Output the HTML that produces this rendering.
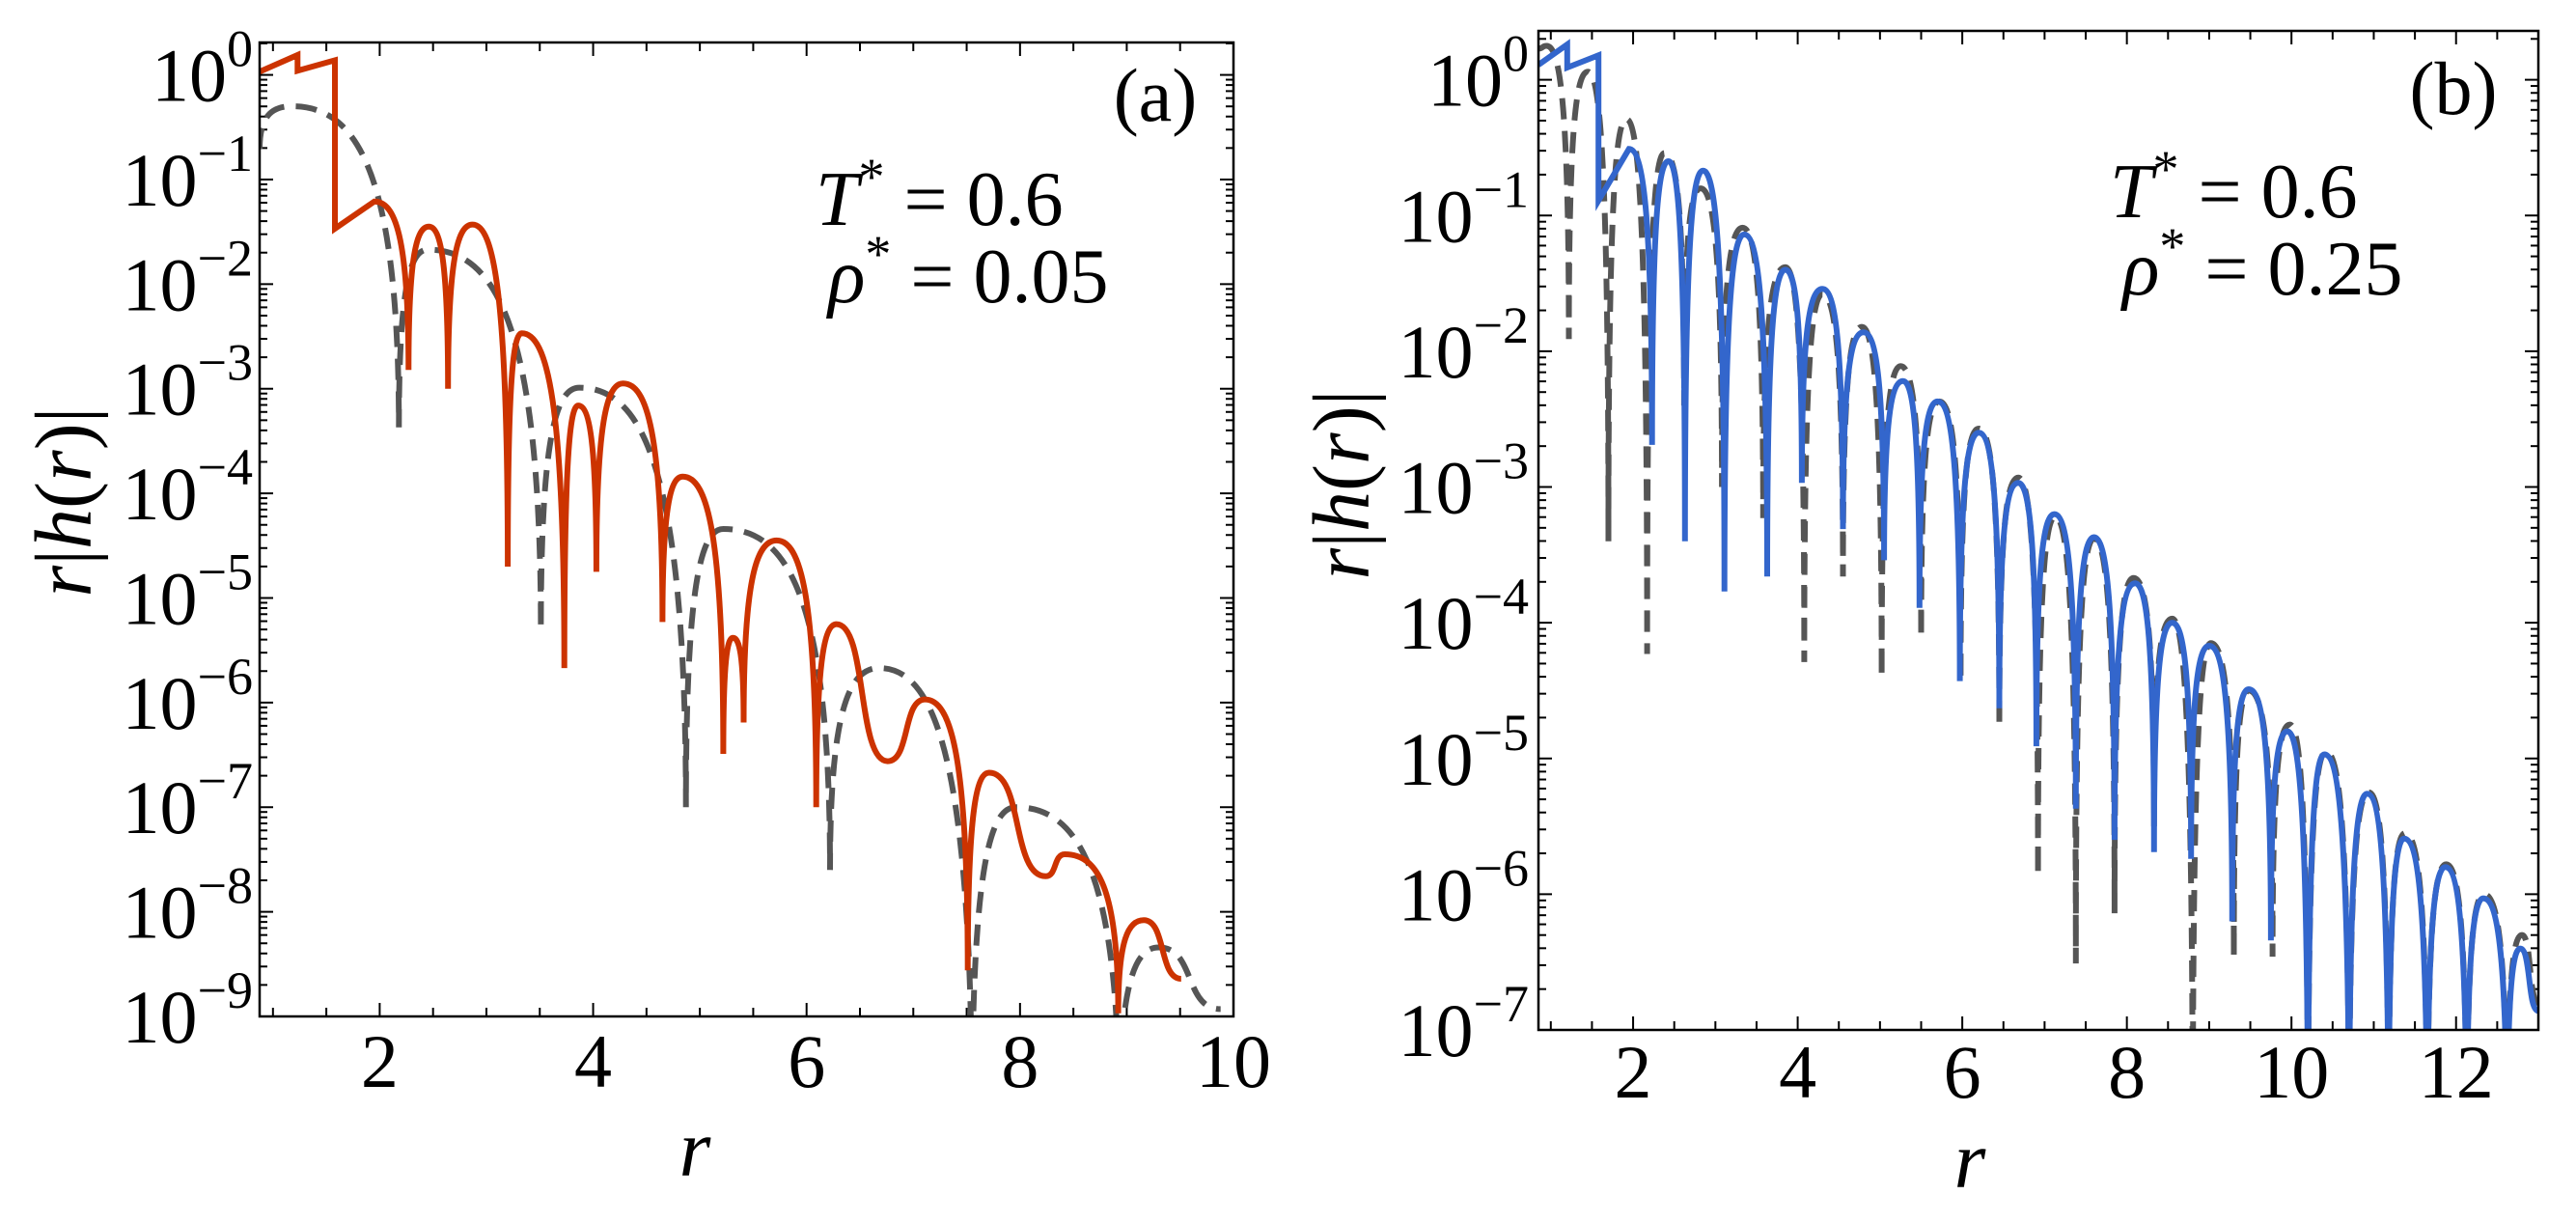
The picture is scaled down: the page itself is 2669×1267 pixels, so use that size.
<!DOCTYPE html>
<html><head><meta charset="utf-8"><style>
html,body{margin:0;padding:0;background:#fff;}
svg, svg text{font-family:"Liberation Serif","DejaVu Serif","Times New Roman",serif;}
</style></head><body>
<svg id="fig" width="2669" height="1262" viewBox="0 0 2669 1262" xmlns="http://www.w3.org/2000/svg" font-family="Liberation Serif, DejaVu Serif, serif">
<defs>
<clipPath id="clipA"><rect x="269" y="44" width="1009" height="1009"/></clipPath>
<clipPath id="clipB"><rect x="1594" y="32" width="1036" height="1035"/></clipPath>
</defs>
<g id="panelA"></g>
<g id="panelB"></g>
<g>
  <text x="1197" y="125" font-size="78" text-anchor="middle">(a)</text>
  <text x="2542" y="118" font-size="78" text-anchor="middle">(b)</text>
  <text x="845" y="233" font-size="80"><tspan font-style="italic">T</tspan><tspan dy="-32" font-size="54">*</tspan><tspan dy="32"> = 0.6</tspan></text>
  <text x="858" y="313" font-size="80"><tspan font-style="italic">ρ</tspan><tspan dy="-32" font-size="54">*</tspan><tspan dy="32"> = 0.05</tspan></text>
  <text x="2186" y="225" font-size="80"><tspan font-style="italic">T</tspan><tspan dy="-32" font-size="54">*</tspan><tspan dy="32"> = 0.6</tspan></text>
  <text x="2199" y="305" font-size="80"><tspan font-style="italic">ρ</tspan><tspan dy="-32" font-size="54">*</tspan><tspan dy="32"> = 0.25</tspan></text>
  <text x="720" y="1218" font-size="84" font-style="italic" text-anchor="middle">r</text>
  <text x="2041" y="1230" font-size="84" font-style="italic" text-anchor="middle">r</text>
  <text transform="translate(94,520) rotate(-90)" font-size="84" text-anchor="middle"><tspan font-style="italic">r</tspan>|<tspan font-style="italic">h</tspan>(<tspan font-style="italic">r</tspan>)|</text>
  <text transform="translate(1418,502) rotate(-90)" font-size="84" text-anchor="middle"><tspan font-style="italic">r</tspan>|<tspan font-style="italic">h</tspan>(<tspan font-style="italic">r</tspan>)|</text>
</g>
</svg>
<script>
// Panel (a) data: r, log10(r|h(r)|), segment type
const redR = [0.875,1.23,1.23,1.58,1.58,1.95,2.27,2.46,2.64,2.87,3.2,3.33,3.73,3.86,4.03,4.28,4.65,4.84,5.22,5.31,5.41,5.72,6.09,6.28,6.76,7.11,7.51,7.71,8.24,8.42,8.92,9.16,9.51];
const redL = [0.03,0.19,0.04,0.14,-1.47,-1.21,-2.82,-1.45,-3.0,-1.43,-4.7,-2.47,-5.67,-3.16,-4.75,-2.95,-5.23,-3.84,-6.49,-5.38,-6.19,-4.45,-7.0,-5.25,-6.56,-5.97,-8.56,-6.67,-7.66,-7.45,-8.97,-8.08,-8.64];
const redT = ['j','j','j','j','j','p','z','p','z','p','z','p','z','p','z','p','z','p','z','p','z','p','z','p','p','p','z','p','p','p','z','p','p'];
const grayAR = [0.875,1.18,2.18,2.45,3.51,3.87,4.87,5.22,6.22,6.68,7.55,7.96,8.93,9.3,9.88];
const grayAL = [-0.71,-0.30,-3.37,-1.67,-5.3,-2.99,-7.0,-4.34,-7.6,-5.67,-10,-7.0,-10,-8.34,-8.93];
const grayAT = ['z','p','z','p','z','p','z','p','z','p','z','p','z','p','p'];
// Panel (b) data
const blueR = [0.85,1.2,1.2,1.58,1.58,1.95,2.23,2.43,2.63,2.85,3.11,3.35,3.63,3.85,4.05,4.3,4.55,4.8,5.05,5.28,5.48,5.7,5.97,6.2,6.45,6.68,6.9,7.12,7.38,7.6,7.85,8.1,8.33,8.55,8.78,9.0,9.28,9.48,9.75,9.95,10.2,10.4,10.7,10.92,11.18,11.37,11.65,11.87,12.13,12.33,12.62,12.78,13.0];
const blueL = [0.11,0.26,0.09,0.18,-0.89,-0.51,-2.69,-0.6,-3.4,-0.67,-3.77,-1.14,-3.66,-1.4,-2.97,-1.54,-3.31,-1.86,-3.54,-2.22,-3.89,-2.37,-4.43,-2.6,-4.63,-2.97,-4.91,-3.2,-5.37,-3.37,-5.6,-3.71,-5.69,-4.0,-5.74,-4.17,-6.2,-4.49,-6.34,-4.8,-8,-4.97,-8,-5.26,-8,-5.59,-8,-5.8,-8,-6.03,-8,-6.4,-6.86];
const blueT = ['j','j','j','j','j','p','z','p','z','p','z','p','z','p','z','p','z','p','z','p','z','p','z','p','z','p','z','p','z','p','z','p','z','p','z','p','z','p','z','p','z','p','z','p','z','p','z','p','z','p','z','p','p'];
const grayBR = [0.85,0.95,1.22,1.45,1.7,1.92,2.17,2.38,2.62,2.82,3.08,3.33,3.58,3.85,4.08,4.3,4.55,4.78,5.02,5.25,5.5,5.72,5.98,6.2,6.45,6.68,6.92,7.13,7.38,7.6,7.85,8.08,8.33,8.55,8.8,9.02,9.3,9.48,9.77,9.98,10.2,10.42,10.7,10.94,11.18,11.38,11.65,11.88,12.13,12.34,12.62,12.8,13.0];
const grayBL = [0.23,0.25,-1.91,0.06,-3.4,-0.29,-4.23,-0.54,-2.4,-0.8,-3.0,-1.09,-3.23,-1.38,-4.29,-1.58,-3.66,-1.82,-4.4,-2.11,-4.11,-2.37,-4.43,-2.57,-4.77,-2.93,-5.86,-3.22,-6.51,-3.38,-6.14,-3.67,-5.5,-3.97,-8,-4.15,-6.46,-4.5,-6.46,-4.75,-8,-4.95,-8,-5.25,-8,-5.55,-8,-5.78,-8,-6.0,-8,-6.3,-6.8];
const grayBT = ['p','p','z','p','z','p','z','p','z','p','z','p','z','p','z','p','z','p','z','p','z','p','z','p','z','p','z','p','z','p','z','p','z','p','z','p','z','p','z','p','z','p','z','p','z','p','z','p','z','p','z','p','p'];
const xTicksA = [2,4,6,8,10];
const xTicksB = [2,4,6,8,10,12];
const yDecA = [0,-1,-2,-3,-4,-5,-6,-7,-8,-9];
const yDecB = [0,-1,-2,-3,-4,-5,-6,-7];

const NS = 'http://www.w3.org/2000/svg';
function mk(tag, attrs, parent){ const e=document.createElementNS(NS,tag); for(const k in attrs) e.setAttribute(k,attrs[k]); parent.appendChild(e); return e; }

function buildPath(R,L,T,sx,sy){
  let d='M'+sx(R[0]).toFixed(1)+','+sy(L[0]).toFixed(1);
  for(let i=0;i<R.length-1;i++){
    const ax=sx(R[i]), ay=sy(L[i]), bx=sx(R[i+1]), by=sy(L[i+1]);
    if(T[i]==='j'){ d+=' L'+bx.toFixed(1)+','+by.toFixed(1); continue; }
    let c1x,c1y,c2x,c2y;
    if(T[i]==='z'){ c1x=ax; c1y=ay+(by-ay)*0.8; } else { c1x=ax+(bx-ax)*0.6; c1y=ay; }
    if(T[i+1]==='z'){ c2x=bx; c2y=by+(ay-by)*0.8; } else { c2x=bx-(bx-ax)*0.6; c2y=by; }
    d+=' C'+c1x.toFixed(1)+','+c1y.toFixed(1)+' '+c2x.toFixed(1)+','+c2y.toFixed(1)+' '+bx.toFixed(1)+','+by.toFixed(1);
  }
  return d;
}

function panel(g, cfg){
  const {x0,x1,y0,y1,rmin,rmax,lmin,lmax,clip}=cfg;
  const sx=r=>x0+(r-rmin)/(rmax-rmin)*(x1-x0);
  const sy=l=>y1-(l-lmin)/(lmax-lmin)*(y1-y0);
  const tg=mk('g',{},g);
  
  
  for(let r=Math.ceil(rmin*2)/2;r<=rmax+1e-9;r+=0.5){
    const X=sx(r); const len=(Math.abs(r/2-Math.round(r/2))<1e-6)?14:9;
    mk('line',{x1:X,y1:y1,x2:X,y2:y1-len,stroke:'#000','stroke-width':2},tg);
    mk('line',{x1:X,y1:y0,x2:X,y2:y0+len,stroke:'#000','stroke-width':2},tg);
  }
  for(let k=lmin;k<=Math.ceil(lmax);k++){
    for(let m=1;m<=9;m++){
      const l=k+Math.log10(m); if(l<lmin-1e-9||l>lmax) continue;
      const Y=sy(l); const len=m===1?14:8;
      mk('line',{x1:x0,y1:Y,x2:x0+len,y2:Y,stroke:'#000','stroke-width':2},tg);
      mk('line',{x1:x1,y1:Y,x2:x1-len,y2:Y,stroke:'#000','stroke-width':2},tg);
    }
  }
  const cg=mk('g',{'clip-path':'url(#'+clip+')'},g);
  const gp=mk('path',{d:buildPath(cfg.gR,cfg.gL,cfg.gT,sx,sy),fill:'none',stroke:'#555','stroke-width':6,'stroke-dasharray':'22 12'},cg);
  
  
  const cp=mk('path',{d:buildPath(cfg.cR,cfg.cL,cfg.cT,sx,sy),fill:'none',stroke:cfg.color,'stroke-width':6,'stroke-linejoin':'miter'},cg);
  
  
  const fr=mk('rect',{x:x0,y:y0,width:x1-x0,height:y1-y0,fill:'none',stroke:'#000','stroke-width':2.5},g);
  
  
  cfg.xt.forEach(v=>{
    const t=mk('text',{x:sx(v),y:cfg.xlabY,'font-size':78,'text-anchor':'middle'},g);
    t.textContent=String(v);
    
    
  });
  cfg.yt.forEach(k=>{
    const t=mk('text',{x:cfg.ylabX,y:sy(k)+27,'font-size':78,'text-anchor':'end'},g);
    
    
    const a=mk('tspan',{},t); a.textContent='10';
    const b=mk('tspan',{dy:-36,'font-size':54}, t); b.textContent=(k===0?'0':'\u2212'+(-k));
  });
}

const A=document.getElementById('panelA');
panel(A,{x0:269,x1:1278,y0:44,y1:1053,rmin:0.875,rmax:10,lmin:-9,lmax:0.31,clip:'clipA',
  cR:redR,cL:redL,cT:redT,gR:grayAR,gL:grayAL,gT:grayAT,color:'#cc3300',xt:xTicksA,yt:yDecA,xlabY:1126,ylabX:262});
const B=document.getElementById('panelB');
panel(B,{x0:1594,x1:2630,y0:32,y1:1067,rmin:0.85,rmax:13,lmin:-7,lmax:0.36,clip:'clipB',
  cR:blueR,cL:blueL,cT:blueT,gR:grayBR,gL:grayBL,gT:grayBT,color:'#3366cc',xt:xTicksB,yt:yDecB,xlabY:1137,ylabX:1584});
</script>
</body></html>
